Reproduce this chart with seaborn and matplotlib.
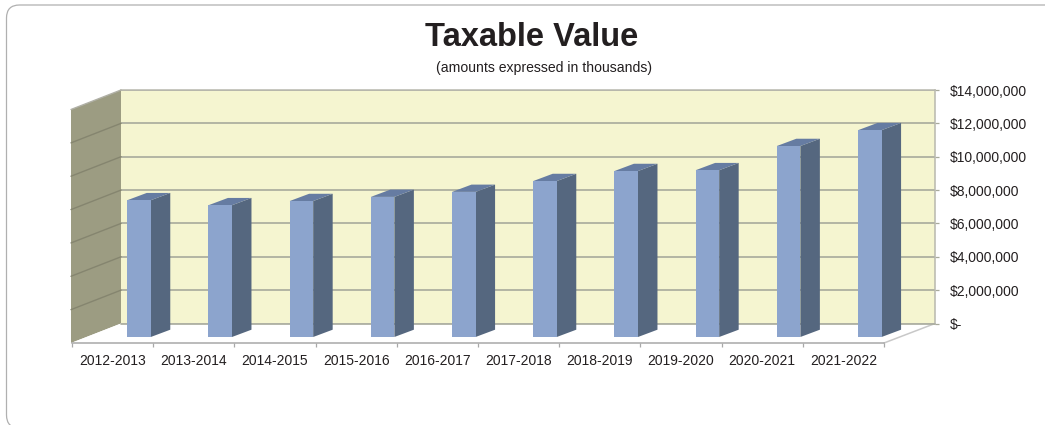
import matplotlib
matplotlib.use("Agg")
import matplotlib.pyplot as plt
from matplotlib.patches import FancyBboxPatch, Polygon
from matplotlib.transforms import IdentityTransform
import pandas as pd
import seaborn as sns

fiscal_years = ["2012-2013", "2013-2014", "2014-2015", "2015-2016", "2016-2017",
                "2017-2018", "2018-2019", "2019-2020", "2020-2021", "2021-2022"]
taxable_value = [8200000, 7900000, 8150000, 8400000, 8700000,
                 9350000, 9950000, 10000000, 11450000, 12400000]
axis_ticks = [0, 2000000, 4000000, 6000000, 8000000, 10000000, 12000000, 14000000]
axis_labels = ["$-", "$2,000,000", "$4,000,000", "$6,000,000", "$8,000,000",
               "$10,000,000", "$12,000,000", "$14,000,000"]

W, H = 1045, 425
INK = "#231f20"
GRID = "#a8aa9c"
FACE = "#8ca4cd"
SIDE = "#55677f"
TOP = "#667ca2"

sns.set_theme(style="white")
plt.rcParams["font.family"] = ["Liberation Sans", "DejaVu Sans"]

fig = plt.figure(figsize=(W / 100, H / 100), dpi=100, facecolor="white")


def box(left, top, right, bottom):
    """Axes rectangle from pixel edges measured from the top-left corner."""
    return [left / W, 1 - bottom / H, (right - left) / W, (bottom - top) / H]


# Rounded panel outline, running off the right and bottom edges
fig.add_artist(FancyBboxPatch((6.5, -3), 1100, 423, boxstyle="round,pad=0,rounding_size=13",
                              transform=IdentityTransform(), fc="none", ec="#b0b0b0", lw=0.9))

# Back wall carrying the value axis
wall = fig.add_axes(box(121, 90, 935, 323.5), facecolor="#f5f5d0", zorder=1)
wall.set_xlim(0, 814)
wall.set_ylim(0, 14000000)
px = 14000000 / 233.5
depth_x, depth_y = 50, 19.5 * px
wall.yaxis.tick_right()
wall.set_yticks(axis_ticks)
wall.set_yticklabels(axis_labels, fontsize=10, color=INK)
wall.tick_params(axis="y", right=True, length=3, width=0.9, color=GRID, pad=8)
wall.set_xticks([])
wall.grid(False)
for v in axis_ticks:
    wall.axhline(v, color=GRID, lw=1.2, zorder=1)
for name, spine in wall.spines.items():
    spine.set_visible(name in ("top", "right"))
    spine.set_color("#b8b8ae")
    spine.set_linewidth(1.1)

# Side wall and floor projected forward from the back wall
wall.add_patch(Polygon([(0, 0), (0, 14000000), (-depth_x, 14000000 - depth_y), (-depth_x, -depth_y)],
                       closed=True, fc="#9c9c82", ec="none", clip_on=False, zorder=2))
wall.add_patch(Polygon([(0, 0), (-depth_x, -depth_y), (763, -depth_y), (814, 0)],
                       closed=True, fc="white", ec="none", clip_on=False, zorder=2))
for v in axis_ticks[1:-1]:
    wall.plot([0, -depth_x], [v, v - depth_y], color="#85856f", lw=1.0, clip_on=False, zorder=3)
wall.plot([0, -depth_x], [14000000, 14000000 - depth_y], color="#b0b0a6", lw=1.0, clip_on=False, zorder=3)
wall.plot([814, 763], [0, -depth_y], color="#c8c8c8", lw=1.1, clip_on=False, zorder=3)
wall.plot([0, 814], [0, 0], color=GRID, lw=1.2, clip_on=False, zorder=3)

# Front edge of the floor with the category axis
front = fig.add_axes(box(72, 250, 884, 343), facecolor="none", zorder=2)
front.set_xlim(-0.5, 9.5)
front.set_yticks([])
front.set_xticks([i - 0.5 for i in range(11)])
front.set_xticklabels([])
front.set_xticks(range(10), fiscal_years, minor=True, fontsize=10, color=INK)
front.tick_params(axis="x", which="major", bottom=True, length=3, width=0.9, color="#a8a8a8")
front.tick_params(axis="x", which="minor", bottom=False, length=0, pad=8)
for name, spine in front.spines.items():
    spine.set_visible(name == "bottom")
    spine.set_color("#a8a8a8")
    spine.set_linewidth(1.1)

# Columns: seaborn draws the front faces, the depth faces follow each bar
bars = fig.add_axes(box(98.4, 103.5, 910.4, 337), facecolor="none", zorder=3)
frame = pd.DataFrame({"year": fiscal_years, "value": taxable_value})
sns.barplot(data=frame, x="year", y="value", color=FACE, saturation=1, width=0.29,
            linewidth=0, edgecolor="none", ax=bars, zorder=3)
bars.set_xlim(-0.5, 9.5)
bars.set_ylim(0, 14000000)
bars.axis("off")
bar_dx = 19.5 / 81.2
bar_dy = 7.3 * px
for rect in list(bars.patches):
    x0, x1, h = rect.get_x(), rect.get_x() + rect.get_width(), rect.get_height()
    bars.add_patch(Polygon([(x1, 0), (x1 + bar_dx, bar_dy), (x1 + bar_dx, h + bar_dy), (x1, h)],
                           closed=True, fc=SIDE, ec="none", zorder=2, clip_on=False))
    bars.add_patch(Polygon([(x0, h), (x1, h), (x1 + bar_dx, h + bar_dy), (x0 + bar_dx, h + bar_dy)],
                           closed=True, fc=TOP, ec="none", zorder=2, clip_on=False))

fig.text(532 / W, 1 - 37 / H, "Taxable Value", ha="center", va="center",
         fontsize=23.5, fontweight="bold", color=INK)
fig.text(543.5 / W, 1 - 68 / H, "(amounts expressed in thousands)", ha="center", va="center",
         fontsize=10.05, color=INK)

fig.savefig("out.png", dpi=100)
